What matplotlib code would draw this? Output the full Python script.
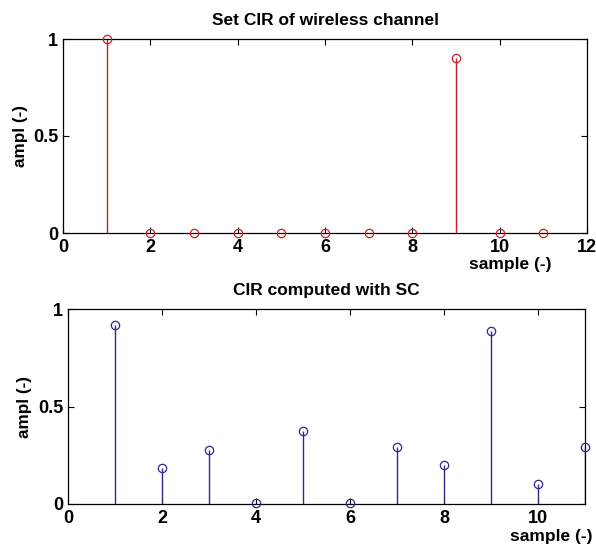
import numpy as np
import matplotlib
matplotlib.use('Agg')
import matplotlib.pyplot as plt

plt.rcParams['font.family'] = ['Liberation Sans', 'DejaVu Sans']

samples = [1, 2, 3, 4, 5, 6, 7, 8, 9, 10, 11]
cir_set = [1.0, 0, 0, 0, 0, 0, 0, 0, 0.9, 0, 0]
cir_sc = [0.918, 0.183, 0.279, 0.005, 0.375, 0.005, 0.293, 0.199, 0.889, 0.103, 0.293]

x_ticks = [0, 2, 4, 6, 8, 10, 12]
y_ticks = [0, 0.5, 1]
y_ticklabels = ['0', '0.5', '1']

W, H = 596, 546
fig = plt.figure(figsize=(W / 100, H / 100), dpi=100)


def box(l, t, r, b):
    return [l / W, 1 - b / H, (r - l) / W, (b - t) / H]


def stem_axes(ax, x, y, color, xlim, title, ylab_x):
    markerline, stemlines, baseline = ax.stem(x, y, linefmt='-', markerfmt='o', basefmt=' ')
    plt.setp(stemlines, color=color, linewidth=1.0)
    plt.setp(markerline, markerfacecolor='none', markeredgecolor=color,
             markersize=6, markeredgewidth=0.9, clip_on=False, zorder=5)
    ax.set_xlim(*xlim)
    ax.set_ylim(0, 1)
    ax.set_xticks([t for t in x_ticks if t <= xlim[1]])
    ax.set_yticks(y_ticks)
    ax.set_yticklabels(y_ticklabels)
    ax.tick_params(direction='in', top=True, right=True, length=4, width=0.8,
                   labelsize=13)
    ax.tick_params(axis='x', pad=4)
    ax.tick_params(axis='y', pad=3.5)
    for lbl in ax.get_xticklabels() + ax.get_yticklabels():
        lbl.set_fontweight('bold')
    for s in ax.spines.values():
        s.set_linewidth(0.9)
    ax.set_title(title, fontsize=12.5, fontweight='bold', pad=10)
    ax.set_ylabel('ampl (-)', fontsize=12.3, fontweight='bold')
    ax.yaxis.set_label_coords(ylab_x, 0.5)


ax1 = fig.add_axes(box(63, 39, 587, 233))
stem_axes(ax1, samples, cir_set, '#c8202a', (0, 12), 'Set CIR of wireless channel', -0.067)
ax1.text(510 / W, 1 - 265 / H, 'sample (-)', transform=fig.transFigure,
         ha='center', va='center', fontsize=12.5, fontweight='bold')

ax2 = fig.add_axes(box(68, 309, 585, 504))
stem_axes(ax2, samples, cir_sc, '#30288c', (0, 11), 'CIR computed with SC', -0.07)
ax2.text(551 / W, 1 - 537 / H, 'sample (-)', transform=fig.transFigure,
         ha='center', va='center', fontsize=12.5, fontweight='bold')

fig.savefig('out.png', dpi=100)
